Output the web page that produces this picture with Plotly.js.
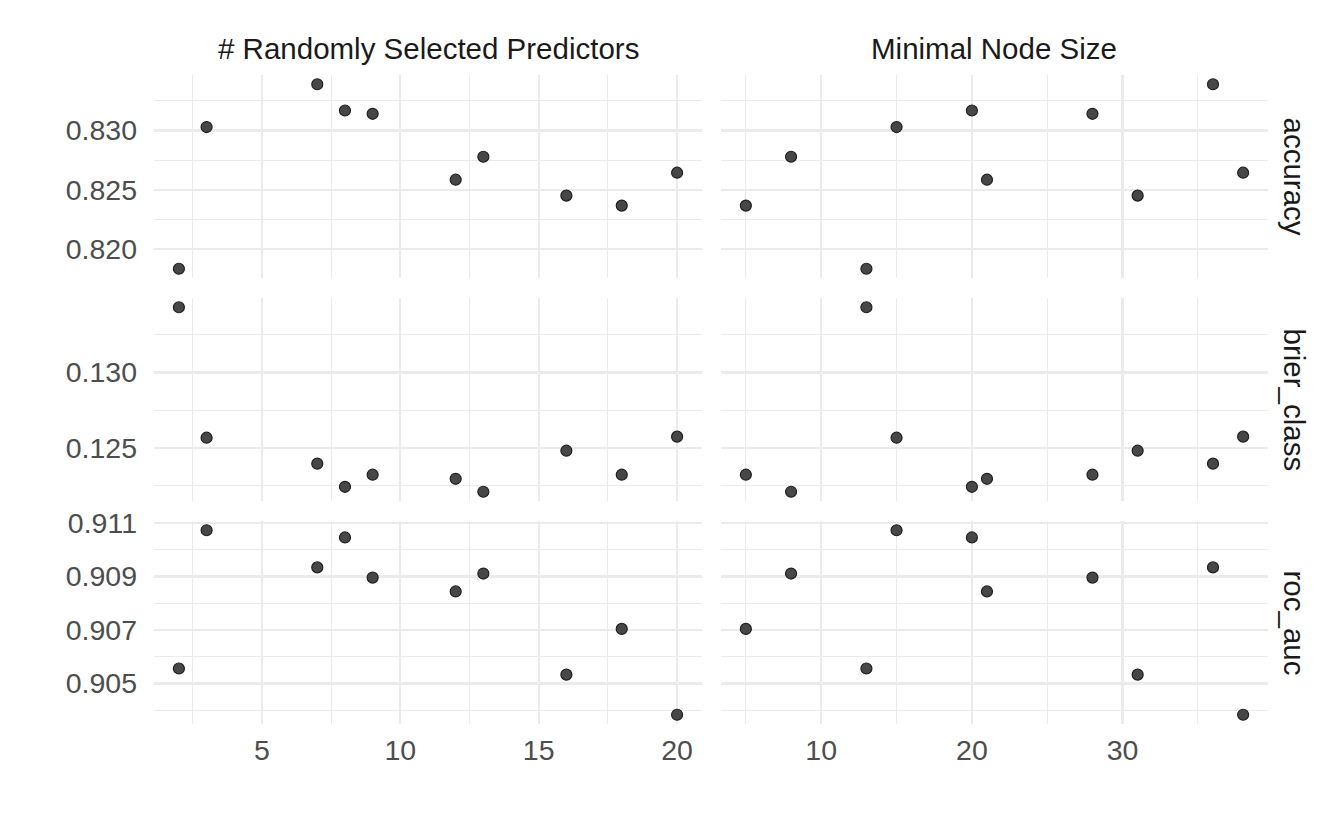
<!DOCTYPE html>
<html>
<head>
<meta charset="utf-8">
<script src="https://cdn.plot.ly/plotly-3.0.1.min.js"></script>
<style>html,body{margin:0;padding:0;background:#fff;}#chart{width:1344px;height:830px;}</style>
</head>
<body>
<div id="chart"></div>
<script>
// Hyperparameter values of each tuned model
var mtry  = [2, 3, 7, 8, 9, 12, 13, 16, 18, 20];
var min_n = [13, 15, 36, 20, 28, 21, 8, 31, 5, 38];
// Metrics per model
var accuracy    = [0.81831, 0.83029, 0.83391, 0.83169, 0.83141, 0.82584, 0.82778, 0.82449, 0.82365, 0.82643];
var brier_class = [0.13432, 0.12568, 0.12396, 0.12243, 0.12323, 0.12296, 0.12210, 0.12482, 0.12323, 0.12575];
var roc_auc     = [0.90556, 0.91073, 0.90934, 0.91046, 0.90896, 0.90844, 0.90911, 0.90533, 0.90704, 0.90383];

var colLabels = ["# Randomly Selected Predictors", "Minimal Node Size"];
var rowLabels = ["accuracy", "brier_class", "roc_auc"];
var colData = [mtry, min_n];
var rowData = [accuracy, brier_class, roc_auc];

// y tick settings per metric
var yTicks = [
  {tick0: 0.820, dtick: 0.005, minor: 0.0025, fmt: ".3f"},
  {tick0: 0.125, dtick: 0.005, minor: 0.0025, fmt: ".3f"},
  {tick0: 0.905, dtick: 0.002, minor: 0.001,  fmt: ".3f"}
];
var xTicks = [
  {tick0: 5, dtick: 5, minor: 2.5},
  {tick0: 10, dtick: 10, minor: 5}
];

function expRange(a) {
  var mn = Math.min.apply(null, a), mx = Math.max.apply(null, a);
  var d = (mx - mn) * 0.05;
  return [mn - d, mx + d];
}

var W = 1344, H = 830;
var colPx = [[154, 702], [721, 1268]];
var rowPx = [[75, 278], [298, 501], [521, 724]];

var tickFont = {family: "Liberation Sans, Arial, sans-serif", size: 28.5, color: "#4d4d4d"};
var stripFont = {family: "Liberation Sans, Arial, sans-serif", size: 29.5, color: "#1a1a1a"};
var grid = "#ebebeb";

var traces = [];
var layout = {
  width: W, height: H,
  margin: {l: 0, r: 0, t: 0, b: 0},
  paper_bgcolor: "#fff", plot_bgcolor: "#fff",
  showlegend: false,
  annotations: []
};

for (var r = 0; r < 3; r++) {
  for (var c = 0; c < 2; c++) {
    var idx = r * 2 + c + 1;
    var xs = idx === 1 ? "" : String(idx);
    traces.push({
      type: "scatter", mode: "markers",
      x: colData[c], y: rowData[r],
      xaxis: "x" + xs, yaxis: "y" + xs,
      marker: {size: 11, color: "#474747", line: {color: "#1f1f1f", width: 1.2}},
      hoverinfo: "x+y"
    });
    layout["xaxis" + xs] = {
      domain: [colPx[c][0] / W, colPx[c][1] / W],
      anchor: "y" + xs,
      range: expRange(colData[c]),
      tick0: xTicks[c].tick0, dtick: xTicks[c].dtick, tickmode: "linear",
      showticklabels: r === 2,
      tickfont: tickFont,
      ticks: "", ticklabelstandoff: 6,
      showgrid: true, gridcolor: grid, gridwidth: 2.2,
      minor: {tick0: 0, dtick: xTicks[c].minor, showgrid: true, gridcolor: grid, gridwidth: 1.1},
      zeroline: false, showline: false
    };
    layout["yaxis" + xs] = {
      domain: [1 - rowPx[r][1] / H, 1 - rowPx[r][0] / H],
      anchor: "x" + xs,
      range: expRange(rowData[r]),
      tick0: yTicks[r].tick0, dtick: yTicks[r].dtick, tickmode: "linear",
      tickformat: yTicks[r].fmt,
      showticklabels: c === 0,
      tickfont: tickFont,
      ticks: "", ticklabelstandoff: 16,
      showgrid: true, gridcolor: grid, gridwidth: 2.2,
      minor: {tick0: yTicks[r].tick0, dtick: yTicks[r].minor, showgrid: true, gridcolor: grid, gridwidth: 1.1},
      zeroline: false, showline: false
    };
  }
}

for (var c2 = 0; c2 < 2; c2++) {
  layout.annotations.push({
    text: colLabels[c2], showarrow: false,
    xref: "paper", yref: "paper",
    x: (colPx[c2][0] + colPx[c2][1]) / 2 / W, y: 1 - 48 / H,
    xanchor: "center", yanchor: "middle",
    font: stripFont
  });
}
for (var r2 = 0; r2 < 3; r2++) {
  layout.annotations.push({
    text: rowLabels[r2], showarrow: false,
    xref: "paper", yref: "paper",
    x: 1294 / W, y: 1 - (rowPx[r2][0] + rowPx[r2][1]) / 2 / H,
    xanchor: "center", yanchor: "middle", textangle: 90,
    font: stripFont
  });
}

Plotly.newPlot("chart", traces, layout, {displayModeBar: false, staticPlot: true});
</script>
</body>
</html>
